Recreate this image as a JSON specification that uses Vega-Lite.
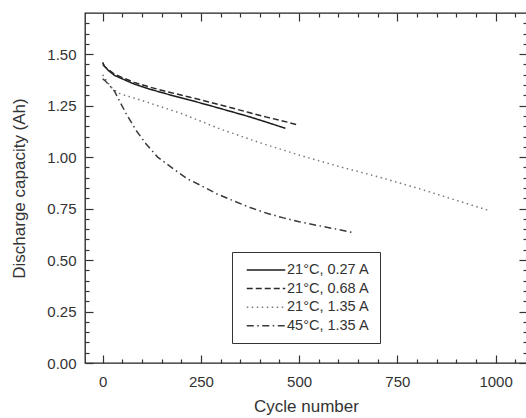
{
  "$schema": "https://vega.github.io/schema/vega-lite/v6.json",
  "width": 442,
  "height": 350,
  "autosize": {"type": "none"},
  "padding": {"left": 85, "top": 13, "right": 0, "bottom": 55},
  "background": "white",
  "config": {
    "font": "Liberation Sans",
    "view": {"stroke": "#222", "strokeWidth": 1.3},
    "axis": {"grid": false, "domain": false, "labelFont": "Liberation Sans", "titleFont": "Liberation Sans", "labelFontSize": 15, "titleFontSize": 17, "titleFontWeight": "normal", "labelColor": "#333", "titleColor": "#333", "tickColor": "#333", "tickWidth": 1.2, "labelOverlap": false},
    "legend": {"orient": "none", "legendX": 147, "legendY": 239, "strokeColor": "#333", "padding": 10, "symbolType": "M-2.75,0H2.75", "symbolSize": 196, "symbolStrokeWidth": 1.5, "labelFontSize": 14.5, "labelFont": "Liberation Sans", "labelColor": "#333", "rowPadding": 3.6, "symbolOffset": 16, "labelOffset": 13}
  },
  "data": {"values": [
    {"series": "21°C, 0.27 A", "cycle": 0, "cap": 1.46},
    {"series": "21°C, 0.27 A", "cycle": 5, "cap": 1.44},
    {"series": "21°C, 0.27 A", "cycle": 15, "cap": 1.42},
    {"series": "21°C, 0.27 A", "cycle": 30, "cap": 1.397},
    {"series": "21°C, 0.27 A", "cycle": 50, "cap": 1.38},
    {"series": "21°C, 0.27 A", "cycle": 80, "cap": 1.355},
    {"series": "21°C, 0.27 A", "cycle": 120, "cap": 1.33},
    {"series": "21°C, 0.27 A", "cycle": 170, "cap": 1.303},
    {"series": "21°C, 0.27 A", "cycle": 220, "cap": 1.278},
    {"series": "21°C, 0.27 A", "cycle": 270, "cap": 1.252},
    {"series": "21°C, 0.27 A", "cycle": 320, "cap": 1.225},
    {"series": "21°C, 0.27 A", "cycle": 370, "cap": 1.198},
    {"series": "21°C, 0.27 A", "cycle": 420, "cap": 1.168},
    {"series": "21°C, 0.27 A", "cycle": 465, "cap": 1.14},
    {"series": "21°C, 0.68 A", "cycle": 0, "cap": 1.45},
    {"series": "21°C, 0.68 A", "cycle": 5, "cap": 1.44},
    {"series": "21°C, 0.68 A", "cycle": 15, "cap": 1.425},
    {"series": "21°C, 0.68 A", "cycle": 30, "cap": 1.403},
    {"series": "21°C, 0.68 A", "cycle": 50, "cap": 1.386},
    {"series": "21°C, 0.68 A", "cycle": 80, "cap": 1.363},
    {"series": "21°C, 0.68 A", "cycle": 120, "cap": 1.34},
    {"series": "21°C, 0.68 A", "cycle": 170, "cap": 1.315},
    {"series": "21°C, 0.68 A", "cycle": 220, "cap": 1.292},
    {"series": "21°C, 0.68 A", "cycle": 270, "cap": 1.268},
    {"series": "21°C, 0.68 A", "cycle": 320, "cap": 1.243},
    {"series": "21°C, 0.68 A", "cycle": 370, "cap": 1.218},
    {"series": "21°C, 0.68 A", "cycle": 420, "cap": 1.193},
    {"series": "21°C, 0.68 A", "cycle": 470, "cap": 1.17},
    {"series": "21°C, 0.68 A", "cycle": 497, "cap": 1.156},
    {"series": "21°C, 1.35 A", "cycle": 0, "cap": 1.4},
    {"series": "21°C, 1.35 A", "cycle": 10, "cap": 1.37},
    {"series": "21°C, 1.35 A", "cycle": 25, "cap": 1.332},
    {"series": "21°C, 1.35 A", "cycle": 45, "cap": 1.307},
    {"series": "21°C, 1.35 A", "cycle": 100, "cap": 1.275},
    {"series": "21°C, 1.35 A", "cycle": 200, "cap": 1.212},
    {"series": "21°C, 1.35 A", "cycle": 300, "cap": 1.136},
    {"series": "21°C, 1.35 A", "cycle": 400, "cap": 1.07},
    {"series": "21°C, 1.35 A", "cycle": 500, "cap": 1.01},
    {"series": "21°C, 1.35 A", "cycle": 600, "cap": 0.955},
    {"series": "21°C, 1.35 A", "cycle": 700, "cap": 0.905},
    {"series": "21°C, 1.35 A", "cycle": 800, "cap": 0.85},
    {"series": "21°C, 1.35 A", "cycle": 900, "cap": 0.79},
    {"series": "21°C, 1.35 A", "cycle": 985, "cap": 0.74},
    {"series": "45°C, 1.35 A", "cycle": 0, "cap": 1.38},
    {"series": "45°C, 1.35 A", "cycle": 7, "cap": 1.37},
    {"series": "45°C, 1.35 A", "cycle": 30, "cap": 1.32},
    {"series": "45°C, 1.35 A", "cycle": 60, "cap": 1.21},
    {"series": "45°C, 1.35 A", "cycle": 85, "cap": 1.13},
    {"series": "45°C, 1.35 A", "cycle": 110, "cap": 1.065},
    {"series": "45°C, 1.35 A", "cycle": 140, "cap": 1.0},
    {"series": "45°C, 1.35 A", "cycle": 175, "cap": 0.95},
    {"series": "45°C, 1.35 A", "cycle": 215, "cap": 0.895},
    {"series": "45°C, 1.35 A", "cycle": 250, "cap": 0.862},
    {"series": "45°C, 1.35 A", "cycle": 290, "cap": 0.822},
    {"series": "45°C, 1.35 A", "cycle": 330, "cap": 0.79},
    {"series": "45°C, 1.35 A", "cycle": 375, "cap": 0.755},
    {"series": "45°C, 1.35 A", "cycle": 420, "cap": 0.726},
    {"series": "45°C, 1.35 A", "cycle": 460, "cap": 0.705},
    {"series": "45°C, 1.35 A", "cycle": 500, "cap": 0.686},
    {"series": "45°C, 1.35 A", "cycle": 550, "cap": 0.667},
    {"series": "45°C, 1.35 A", "cycle": 590, "cap": 0.652},
    {"series": "45°C, 1.35 A", "cycle": 640, "cap": 0.632}
  ]},
  "layer": [
    {
      "mark": {"type": "line", "strokeWidth": 1.5, "clip": true},
      "encoding": {
        "x": {"field": "cycle", "type": "quantitative", "scale": {"domain": [-45, 1080], "nice": false, "zero": false},
          "axis": {"orient": "bottom", "title": "Cycle number", "values": [0, 250, 500, 750, 1000], "format": "d",
            "tickSize": -8, "labelPadding": 19, "titlePadding": 9}},
        "y": {"field": "cap", "type": "quantitative", "scale": {"domain": [0, 1.7], "nice": false},
          "axis": {"orient": "left", "title": "Discharge capacity (Ah)", "values": [0, 0.25, 0.5, 0.75, 1, 1.25, 1.5], "format": ".2f",
            "tickSize": -8, "labelPadding": 17, "titlePadding": 18}},
        "color": {"field": "series", "type": "nominal", "title": null,
          "scale": {"domain": ["21°C, 0.27 A", "21°C, 0.68 A", "21°C, 1.35 A", "45°C, 1.35 A"], "range": ["#1c1c1c", "#2a2a2a", "#7a7a7a", "#3a3a3a"]}},
        "strokeDash": {"field": "series", "type": "nominal", "title": null,
          "scale": {"domain": ["21°C, 0.27 A", "21°C, 0.68 A", "21°C, 1.35 A", "45°C, 1.35 A"], "range": [[1, 0], [6, 3], [1.5, 3.5], [7, 3.5, 1.5, 3.5]]}}
      }
    },
    {
      "mark": {"type": "line", "opacity": 0},
      "encoding": {
        "x": {"field": "cycle", "type": "quantitative", "scale": {"domain": [-45, 1080], "nice": false, "zero": false},
          "axis": {"orient": "bottom", "title": null, "labels": false, "tickSize": -4, "values": [50,100,150,200,300,350,400,450,550,600,650,700,800,850,900,950,1050]}},
        "y": {"field": "cap", "type": "quantitative", "scale": {"domain": [0, 1.7], "nice": false},
          "axis": {"orient": "left", "title": null, "labels": false, "tickSize": -4, "values": [0.05,0.1,0.15,0.2,0.3,0.35,0.4,0.45,0.55,0.6,0.65,0.7,0.8,0.85,0.9,0.95,1.05,1.1,1.15,1.2,1.3,1.35,1.4,1.45,1.55,1.6,1.65]}}
      }
    },
    {
      "mark": {"type": "line", "opacity": 0},
      "encoding": {
        "x": {"field": "cycle", "type": "quantitative", "scale": {"domain": [-45, 1080], "nice": false, "zero": false},
          "axis": {"orient": "top", "title": null, "labels": false, "tickSize": -8, "values": [0, 250, 500, 750, 1000]}},
        "y": {"field": "cap", "type": "quantitative", "scale": {"domain": [0, 1.7], "nice": false},
          "axis": {"orient": "right", "title": null, "labels": false, "tickSize": -8, "values": [0, 0.25, 0.5, 0.75, 1, 1.25, 1.5]}}
      }
    },
    {
      "mark": {"type": "line", "opacity": 0},
      "encoding": {
        "x": {"field": "cycle", "type": "quantitative", "scale": {"domain": [-45, 1080], "nice": false, "zero": false},
          "axis": {"orient": "top", "title": null, "labels": false, "tickSize": -4, "values": [50,100,150,200,300,350,400,450,550,600,650,700,800,850,900,950,1050]}},
        "y": {"field": "cap", "type": "quantitative", "scale": {"domain": [0, 1.7], "nice": false},
          "axis": {"orient": "right", "title": null, "labels": false, "tickSize": -4, "values": [0.05,0.1,0.15,0.2,0.3,0.35,0.4,0.45,0.55,0.6,0.65,0.7,0.8,0.85,0.9,0.95,1.05,1.1,1.15,1.2,1.3,1.35,1.4,1.45,1.55,1.6,1.65]}}
      }
    }
  ],
  "resolve": {"axis": {"x": "independent", "y": "independent"}}
}
